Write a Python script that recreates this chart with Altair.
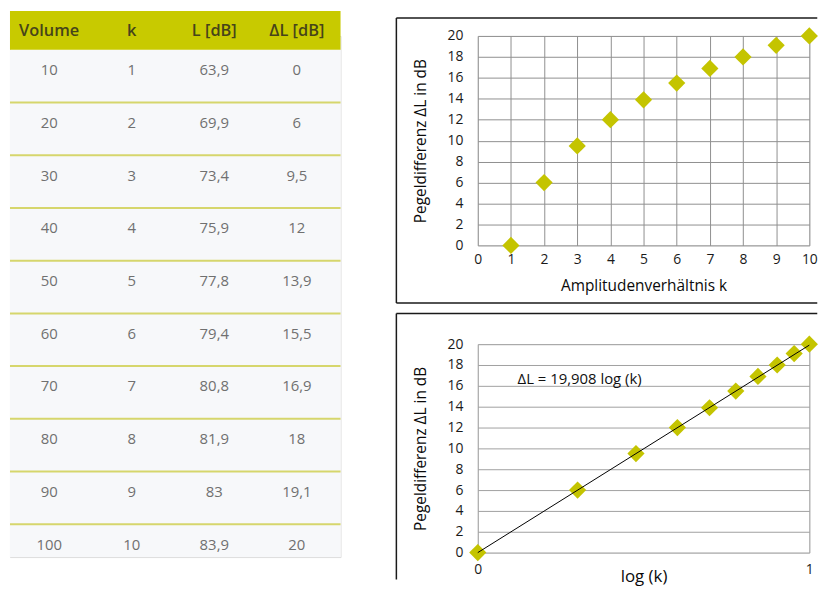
import altair as alt
import pandas as pd
import numpy as np

# ---------------- data ----------------
volume = [10, 20, 30, 40, 50, 60, 70, 80, 90, 100]
k_vals = [1, 2, 3, 4, 5, 6, 7, 8, 9, 10]
level_db = [63.9, 69.9, 73.4, 75.9, 77.8, 79.4, 80.8, 81.9, 83, 83.9]
delta_db = [0, 6, 9.5, 12, 13.9, 15.5, 16.9, 18, 19.1, 20]
headers = ["Volume", "k", "L [dB]", "ΔL [dB]"]
fit_slope = 19.908
fit_x = [0, 1]
fit_y = [0, 19.908]
annot_at = {"logk": [0.12], "dL": [16.7]}
x1_ticks = list(range(0, 11))
y_ticks = list(range(0, 21, 2))
x2_ticks = [0, 1]


def de(v):
    return f"{v:g}".replace(".", ",")


rows = []
for i in range(len(volume)):
    for c, v in zip(headers, [volume[i], k_vals[i], level_db[i], delta_db[i]]):
        rows.append({"row": i, "col": c, "label": de(v)})
table_df = pd.DataFrame(rows)
sep_df = pd.DataFrame({"row": list(range(1, len(volume)))})
head_df = pd.DataFrame({"col": headers})

pts1 = pd.DataFrame({"k": k_vals, "dL": delta_db})
pts2 = pd.DataFrame({"logk": np.log10(k_vals), "dL": delta_db})
fit_df = pd.DataFrame({"logk": fit_x, "dL": fit_y})
fit_label = f"ΔL = {de(fit_slope)} log (k)"
annot_df = pd.DataFrame({**annot_at, "label": [fit_label]})

# ---------------- styles ----------------
FONT = "Open Sans"
YELLOW = "#c8ca00"
MARK = "#c4c400"
SEP = "#d6d66c"
BOX = "#1a1a1a"
TW = 333
OFF = -25  # table drawn above its group origin so it lines up with the chart frame
one = alt.Data(values=[{}])

# ---------------- table ----------------
col_x = alt.X("col:N", scale=alt.Scale(domain=headers, range=[39.5, 289], padding=0), axis=None)
row_y = alt.Y("row:Q", scale=alt.Scale(domain=[0, 10], range=[39 + OFF, 570 + OFF]), axis=None)

tint = alt.Chart(one).mark_rect(color="#f7f8fa").encode(
    x=alt.value(0), x2=alt.value(TW), y=alt.value(39 + OFF), y2=alt.value(550 + OFF))
head_band = alt.Chart(one).mark_rect(color=YELLOW).encode(
    x=alt.value(0), x2=alt.value(TW), y=alt.value(OFF), y2=alt.value(39 + OFF))
seps = alt.Chart(sep_df).mark_rule(color=SEP, strokeWidth=2).encode(y=row_y)
head_text = alt.Chart(head_df).mark_text(
    font=FONT, fontSize=16.5, fontWeight=600, color="#46441a", baseline="middle"
).encode(x=col_x, y=alt.value(20 + OFF), text="col:N")
cells = alt.Chart(table_df).mark_text(
    font=FONT, fontSize=15, color="#707070", baseline="middle", dy=20.5
).encode(x=col_x, y=row_y, text="label:N")

table = alt.layer(tint, head_band, seps, head_text, cells).properties(width=TW, height=525)

# ---------------- charts ----------------
ax_common = dict(domain=False, ticks=False, tickSize=0, labelFont=FONT, labelFontSize=14,
                 labelColor="#1a1a1a", labelOverlap=False, labelFlush=False, titleFont=FONT,
                 titleColor="#0a0a0a", titleFontWeight=500, gridWidth=1)


def frame(left, right, top, bottom, with_bottom, ghost_top=None):
    base = alt.Chart(one)
    parts = [
        base.mark_rule(color=BOX, strokeWidth=1.5).encode(
            x=alt.value(left), x2=alt.value(right), y=alt.value(top)),
        base.mark_rule(color=BOX, strokeWidth=1.5).encode(
            x=alt.value(left), y=alt.value(top), y2=alt.value(bottom)),
    ]
    if with_bottom:
        parts.append(base.mark_rule(color=BOX, strokeWidth=1.5).encode(
            x=alt.value(left), x2=alt.value(right), y=alt.value(bottom)))
    if ghost_top is not None:
        parts.append(base.mark_rule(color="white", strokeWidth=1.5).encode(
            x=alt.value(left), x2=alt.value(left + 1), y=alt.value(ghost_top)))
    return parts


W1, H1 = 334, 211
x1 = alt.X("k:Q", scale=alt.Scale(domain=[0, 10], nice=False),
           axis=alt.Axis(values=x1_ticks, grid=True, gridColor="#8f8f8f", labelPadding=7,
                         title="Amplitudenverhältnis k", titleFontSize=15.5, titleY=40,
                         titleBaseline="middle", **ax_common))
y1 = alt.Y("dL:Q", scale=alt.Scale(domain=[0, 20], nice=False),
           axis=alt.Axis(values=y_ticks, grid=True, gridColor="#8f8f8f", labelPadding=15,
                         title="Pegeldifferenz ΔL in dB", titleFontSize=15.5, titleX=-58,
                         titleY=H1 / 2, titleBaseline="middle", **ax_common))
pts_layer1 = alt.Chart(pts1).mark_point(shape="diamond", filled=True, size=300,
                                        color=MARK, opacity=1).encode(x=x1, y=y1)
chart1 = alt.layer(*frame(-82, 342, -18, 269, True, ghost_top=-24.25),
                   pts_layer1).properties(width=W1, height=H1)

W2, H2 = 334, 210
x2 = alt.X("logk:Q", scale=alt.Scale(domain=[0, 1], nice=False),
           axis=alt.Axis(values=x2_ticks, format="~g", grid=True, gridColor="#a0a0a0",
                         labelPadding=10, title="log (k)", titleFontSize=17, titleY=24,
                         titleBaseline="middle", **ax_common))
y2 = alt.Y("dL:Q", scale=alt.Scale(domain=[0, 20], nice=False),
           axis=alt.Axis(values=y_ticks, grid=True, gridColor="#a0a0a0", labelPadding=15,
                         title="Pegeldifferenz ΔL in dB", titleFontSize=15.5, titleX=-58,
                         titleY=H2 / 2, titleBaseline="middle", **ax_common))
pts_layer2 = alt.Chart(pts2).mark_point(shape="diamond", filled=True, size=300,
                                        color=MARK, opacity=1).encode(x=x2, y=y2)
fit_layer = alt.Chart(fit_df).mark_line(color="black", strokeWidth=1).encode(x=x2, y=y2)
annot = alt.Chart(annot_df).mark_text(align="left", baseline="middle", font=FONT,
                                      fontSize=15, fontWeight=500, color="#111111").encode(
    x=x2, y=y2, text="label:N")
chart2 = alt.layer(*frame(-82, 342, -31, 237, False), pts_layer2, fit_layer,
                   annot).properties(width=W2, height=H2)

right = alt.vconcat(chart1, chart2, spacing=6.5)
chart = alt.hconcat(table, right, spacing=52.25).properties(padding=0).configure_view(
    stroke="transparent").configure(background="white")

chart.save("out.html", embed_options={"renderer": "svg", "actions": False})
